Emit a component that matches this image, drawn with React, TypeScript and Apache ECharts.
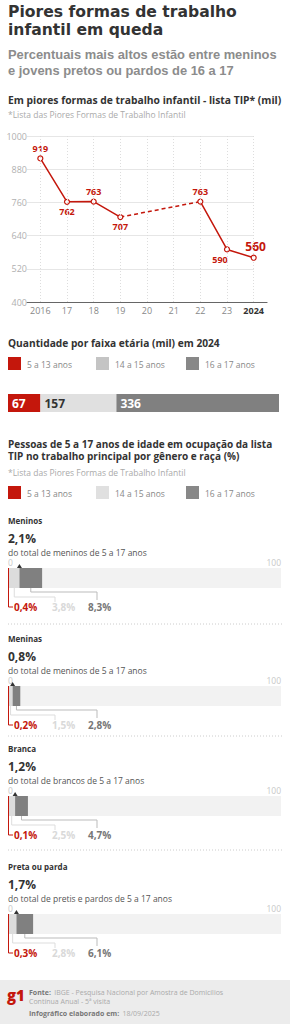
import React, { useEffect, useRef } from 'react';
import * as echarts from 'echarts';

const FONT = "'Open Sans', sans-serif";
const TITLE_FONT = "'DejaVu Sans', sans-serif";
const SUB_FONT = "'Liberation Sans', Arial, sans-serif";
const RED = '#c4170c';

// ---- data ----
const years = ['2016', '17', '18', '19', '20', '21', '22', '23', '2024'];
const tipSolid = [919, 762, 763, 707, null, null, 763, 590, 560];
const tipDashed = [null, null, null, 707, null, null, 763, null, null];
const yMin = 400;
const yMax = 1000;
const yStep = 120;

const ageGroups = ['5 a 13 anos', '14 a 15 anos', '16 a 17 anos'];
const qty2024 = [67, 157, 336];

const panelNames = ['Meninos', 'Meninas', 'Branca', 'Preta ou parda'];
const panelTotals = [2.1, 0.8, 1.2, 1.7];
const panelSubs = [
  'do total de meninos de 5 a 17 anos',
  'do total de meninos de 5 a 17 anos',
  'do total de brancos de 5 a 17 anos',
  'do total de pretis e pardos de 5 a 17 anos',
];
const pct5to13 = [0.4, 0.2, 0.1, 0.3];
const pct14to15 = [3.8, 1.5, 2.5, 2.8];
const pct16to17 = [8.3, 2.8, 4.7, 6.1];

// ---- layout / styles ----
const pointLabelPlace = ['top', 'bottom', 'top', 'bottom', '', '', 'top', 'bottom', 'top'];
const panelTop = [520, 638, 748, 866];
const separatorsY = [624, 736, 850];
const barColors = [RED, '#e0e0e0', '#808080'];
const barLabelColors = ['#fff', '#333', '#fff'];
const legend2Colors = [RED, '#c4c4c4', '#888888'];
const legend3Colors = [RED, '#e0e0e0', '#888888'];
const panelColors = [RED, '#dcdcdc', '#808080'];
const leaderColors = [RED, '#dddddd', '#bbbbbb'];
const leaderTextColors = [RED, '#d9d9d9', '#777777'];
const legendX = [8, 96, 186];

const fmt = (v: number) => v.toFixed(1).replace('.', ',') + '%';

const txt = (text: string, x: number, y: number, fontSize: number, fill: string, fontWeight: any = 'normal', fontFamily = FONT) => ({
  type: 'text',
  x,
  y,
  silent: true,
  style: { text, fontSize, fill, fontWeight, fontFamily, align: 'left', verticalAlign: 'middle' },
});

function buildOption() {
  const pcts = [pct5to13, pct14to15, pct16to17];
  const total2024 = qty2024.reduce((a, b) => a + b, 0);

  const graphic: any[] = [];
  graphic.push(txt('Piores formas de trabalho', 8, 11.5, 15.6, '#333', 'bold', TITLE_FONT));
  graphic.push(txt('infantil em queda', 8, 30, 15.6, '#333', 'bold', TITLE_FONT));
  graphic.push(txt('Percentuais mais altos estão entre meninos', 8, 54.5, 12.9, '#8c8c8c', 'bold', SUB_FONT));
  graphic.push(txt('e jovens pretos ou pardos de 16 a 17', 8, 70, 12.9, '#8c8c8c', 'bold', SUB_FONT));
  graphic.push(txt('Em piores formas de trabalho infantil - lista TIP* (mil)', 8, 100, 10.3, '#333', 'bold'));
  graphic.push(txt('*Lista das Piores Formas de Trabalho Infantil', 8, 114, 8.5, '#aaa'));

  graphic.push(txt('Quantidade por faixa etária (mil) em 2024', 8, 343, 10.2, '#333', 'bold'));
  ageGroups.forEach((g, i) => {
    graphic.push({ type: 'rect', silent: true, shape: { x: legendX[i], y: 357, width: 13, height: 13 }, style: { fill: legend2Colors[i] } });
    graphic.push(txt(g, legendX[i] + 19, 364, 8.5, '#888'));
  });

  graphic.push(txt('Pessoas de 5 a 17 anos de idade em ocupação da lista', 8, 443.5, 10, '#333', 'bold'));
  graphic.push(txt('TIP no trabalho principal por gênero e raça (%)', 8, 456, 10, '#333', 'bold'));
  graphic.push(txt('*Lista das Piores Formas de Trabalho Infantil', 8, 472, 8.5, '#aaa'));
  ageGroups.forEach((g, i) => {
    graphic.push({ type: 'rect', silent: true, shape: { x: legendX[i], y: 486, width: 13, height: 13 }, style: { fill: legend3Colors[i] } });
    graphic.push(txt(g, legendX[i] + 19, 493, 8.5, '#888'));
  });

  panelNames.forEach((n, p) => {
    const L = panelTop[p];
    graphic.push(txt(n, 8, L, 8, '#333', 'bold'));
    graphic.push(txt(fmt(panelTotals[p]), 8, L + 18, 12, '#333', 'bold'));
    graphic.push(txt(panelSubs[p], 8, L + 32, 8.5, '#555'));
  });
  separatorsY.forEach((y) => {
    graphic.push({ type: 'line', silent: true, shape: { x1: 8, y1: y, x2: 282, y2: y }, style: { stroke: '#cccccc', lineWidth: 1, lineDash: [1, 2] } });
  });

  graphic.push({ type: 'rect', silent: true, shape: { x: 0, y: 980, width: 290, height: 44 }, style: { fill: '#ececec' } });
  graphic.push(txt('g1', 7, 995, 15, RED, 900));
  graphic.push({
    type: 'text', x: 29, y: 992, silent: true,
    style: {
      text: '{a|Fonte:} {b|IBGE - Pesquisa Nacional por Amostra de Domicílios}',
      verticalAlign: 'middle',
      rich: { a: { fontSize: 7, fontWeight: 'bold', fill: '#777', fontFamily: FONT }, b: { fontSize: 7, fill: '#aaa', fontFamily: FONT } },
    },
  });
  graphic.push(txt('Contínua Anual - 5ª visita', 29, 1001.5, 7, '#aaa'));
  graphic.push({
    type: 'text', x: 29, y: 1013, silent: true,
    style: {
      text: '{a|Infográfico elaborado em:} {b|18/09/2025}',
      verticalAlign: 'middle',
      rich: { a: { fontSize: 7, fontWeight: 'bold', fill: '#777', fontFamily: FONT }, b: { fontSize: 7, fill: '#aaa', fontFamily: FONT } },
    },
  });

  const grid: any[] = [
    { left: 27, top: 136, width: 240, height: 166 },
    { left: 27, top: 136, width: 227, height: 166 },
    { left: 8, top: 394, width: 271, height: 18 },
    ...panelTop.map((L) => ({ left: 8, top: L + 48, width: 273, height: 20 })),
  ];

  const xAxis: any[] = [
    {
      gridIndex: 0, type: 'category', data: years, boundaryGap: true,
      axisLine: { lineStyle: { color: '#666', width: 1.2 } },
      axisTick: { show: false },
      splitLine: { show: false },
      axisLabel: {
        interval: 0, margin: 4, fontSize: 9, color: '#888', fontFamily: FONT,
        formatter: (v: string) => (v === '2024' ? '{b|2024}' : v),
        rich: { b: { fontWeight: 'bold', color: '#333', fontSize: 9, fontFamily: FONT } },
      },
    },
    { gridIndex: 1, type: 'value', show: false, min: 0, max: 1 },
    { gridIndex: 2, type: 'value', show: false, min: 0, max: total2024 },
    ...panelTop.map((_, p) => ({
      gridIndex: 3 + p, type: 'value', min: 0, max: 100, interval: 100, position: 'top',
      axisLine: { show: false }, axisTick: { show: false }, splitLine: { show: false },
      axisLabel: { show: true, margin: 1, fontSize: 8.5, color: '#c8c8c8', fontFamily: FONT, alignMinLabel: 'left', alignMaxLabel: 'right' },
    })),
  ];

  const yAxis: any[] = [
    { gridIndex: 0, type: 'value', min: yMin, max: yMax, interval: yStep, show: false },
    {
      gridIndex: 1, type: 'value', min: yMin, max: yMax, interval: yStep,
      axisLine: { show: false }, axisTick: { show: false },
      axisLabel: { margin: 0, fontSize: 9, color: '#b0b0b0', fontFamily: FONT, formatter: (v: number) => String(v) },
      splitLine: { show: true, showMinLine: false, lineStyle: { color: '#e6e6e6', width: 1 } },
    },
    { gridIndex: 2, type: 'category', data: ['2024'], show: false },
    ...panelNames.map((n, p) => ({ gridIndex: 3 + p, type: 'category', data: [n], show: false })),
  ];

  const series: any[] = [];
  series.push({
    type: 'line', xAxisIndex: 0, yAxisIndex: 0, data: years.map(() => null), silent: true, z: 1, symbol: 'none',
    markLine: {
      silent: true, symbol: ['none', 'none'], label: { show: false },
      lineStyle: { color: '#dddddd', type: [1, 2], width: 1 },
      data: years.map((y) => ({ xAxis: y })),
    },
  });
  series.push({
    type: 'line', xAxisIndex: 0, yAxisIndex: 0, data: tipDashed, connectNulls: true, symbol: 'none', z: 2, silent: true,
    lineStyle: { color: RED, width: 1.5, type: [4, 3] },
  });
  series.push({
    type: 'line', xAxisIndex: 0, yAxisIndex: 0, z: 3, silent: true,
    data: tipSolid.map((v, i) => {
      if (v == null) return null;
      const label: any = { position: pointLabelPlace[i], distance: 2 };
      if (i === 7) label.offset = [-7, 0];
      if (i === 8) { label.fontSize = 12; label.offset = [2, 0]; }
      return { value: v, label };
    }),
    symbol: 'circle', symbolSize: 5,
    itemStyle: { color: '#fff', borderColor: RED, borderWidth: 1.2 },
    lineStyle: { color: RED, width: 1.5 },
    label: { show: true, color: RED, fontWeight: 'bold', fontSize: 9, fontFamily: FONT },
  });

  ageGroups.forEach((g, i) => {
    series.push({
      type: 'bar', name: g, xAxisIndex: 2, yAxisIndex: 2, stack: 'q', barWidth: 18, silent: true,
      data: [qty2024[i]],
      itemStyle: { color: barColors[i] },
      label: { show: true, position: 'insideLeft', distance: 4, formatter: '{c}', color: barLabelColors[i], fontWeight: 'bold', fontSize: 12, fontFamily: FONT },
    });
  });

  panelNames.forEach((n, p) => {
    pcts.forEach((arr, i) => {
      series.push({
        type: 'bar', xAxisIndex: 3 + p, yAxisIndex: 3 + p, stack: 'p' + p, barWidth: 20, silent: true,
        data: [arr[p]],
        itemStyle: { color: panelColors[i] },
        showBackground: i === 0,
        backgroundStyle: { color: '#f2f2f2' },
      });
    });
    let cum = 0;
    const items = pcts.map((arr, k) => {
      const s = cum;
      cum += arr[p];
      return [s, cum, k, arr[p], 0];
    });
    series.push({
      type: 'custom', xAxisIndex: 3 + p, yAxisIndex: 3 + p, silent: true, z: 5,
      encode: { x: [0, 1], y: 4 },
      data: items,
      renderItem: (params: any, api: any) => {
        const start = api.value(0);
        const end = api.value(1);
        const k = api.value(2);
        const v = api.value(3);
        const c0 = api.coord([0, 0]);
        const x0 = c0[0];
        const cy = c0[1];
        const top = cy - 10;
        const bot = cy + 10;
        const xm = api.coord([(start + end) / 2, 0])[0];
        const xe = api.coord([end, 0])[0];
        const labY = bot + 19;
        const children: any[] = [];
        let pts: number[][];
        let lx: number;
        if (k === 0) {
          pts = [[x0 + 0.5, top], [x0 + 0.5, labY], [x0 + 5, labY]];
          lx = x0 + 6;
        } else if (k === 1) {
          pts = [[xm, bot], [xm, bot + 9], [x0 + 47, bot + 9], [x0 + 47, bot + 14]];
          lx = x0 + 44;
          children.push({ type: 'polygon', shape: { points: [[xe - 2.5, top], [xe + 2.5, top], [xe, top - 4]] }, style: { fill: '#333' } });
        } else {
          pts = [[xm, bot], [xm, bot + 4], [x0 + 89, bot + 4], [x0 + 89, bot + 12]];
          lx = x0 + 80;
        }
        children.push({ type: 'polyline', shape: { points: pts }, style: { stroke: leaderColors[k], lineWidth: 1, fill: null } });
        children.push({
          type: 'text', x: lx, y: labY,
          style: { text: fmt(v), fontSize: 10, fontWeight: 'bold', fill: leaderTextColors[k], fontFamily: FONT, align: 'left', verticalAlign: 'middle' },
        });
        return { type: 'group', children };
      },
    });
  });

  return {
    animation: false,
    backgroundColor: '#ffffff',
    grid,
    xAxis,
    yAxis,
    series,
    graphic: { elements: graphic },
  };
}

export default function App() {
  const ref = useRef<HTMLDivElement>(null);
  useEffect(() => {
    if (!ref.current) return;
    const chart = echarts.init(ref.current, undefined, { renderer: 'svg' });
    chart.setOption(buildOption() as any);
    return () => chart.dispose();
  }, []);
  return <div ref={ref} style={{ position: 'fixed', left: 0, top: 0, width: 290, height: 1024, background: '#fff' }} />;
}
